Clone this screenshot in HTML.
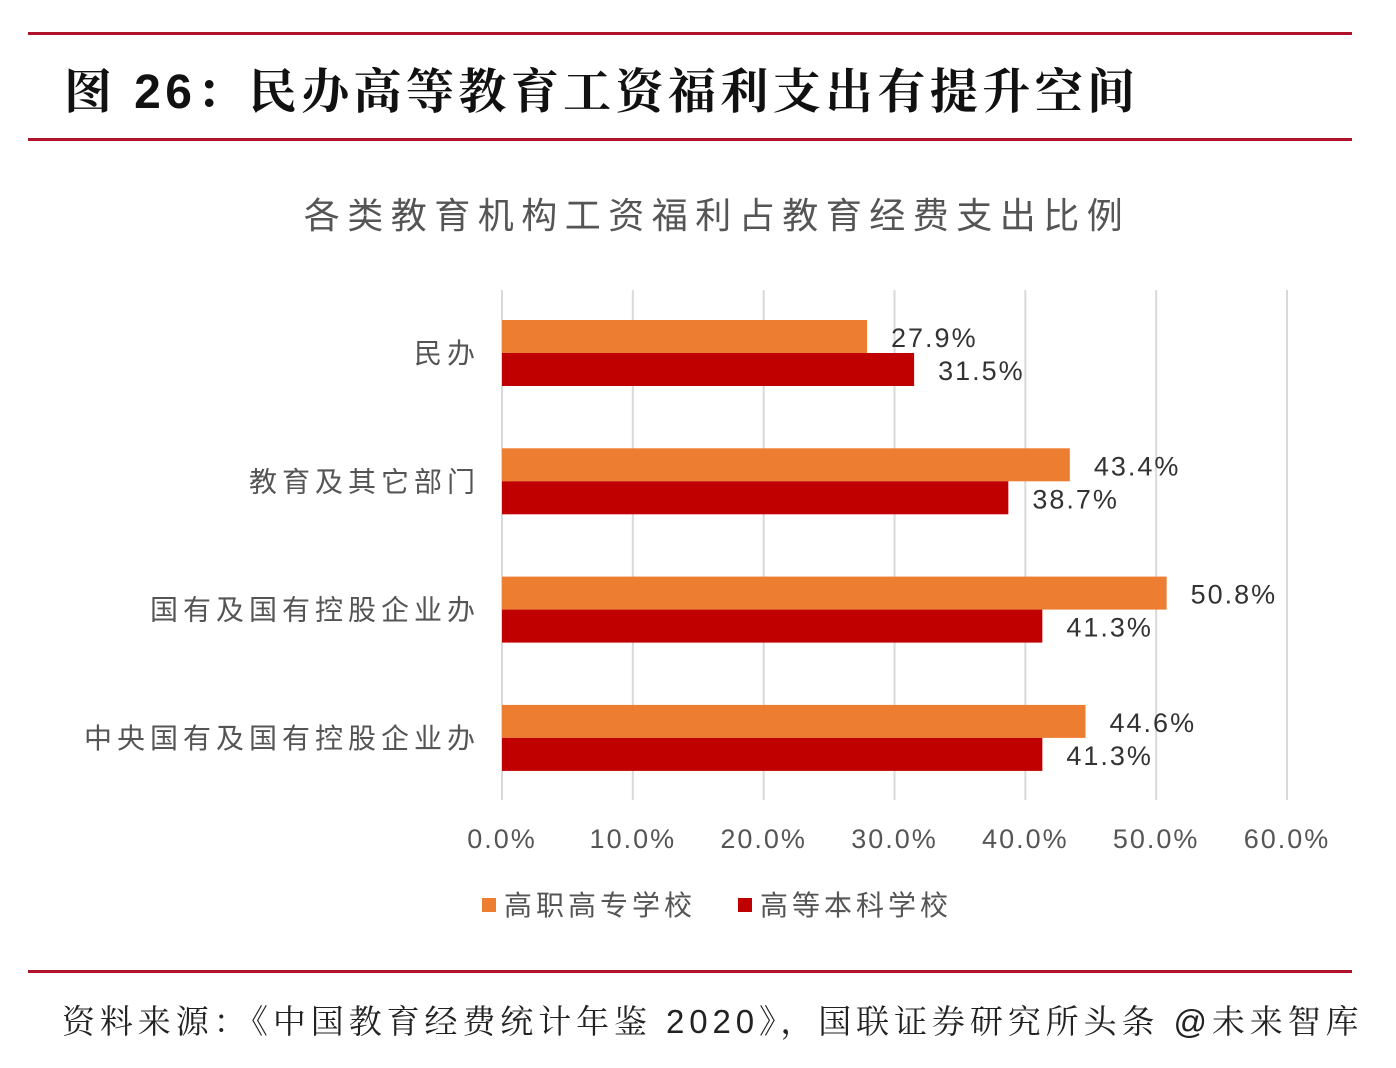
<!DOCTYPE html>
<html><head><meta charset="utf-8">
<style>
body{margin:0;width:1396px;height:1068px;background:#fff;overflow:hidden;position:relative;font-family:"Liberation Sans","Noto Sans CJK SC",sans-serif;}
.rl{position:absolute;left:28px;width:1324px;height:3px;background:#b0142c;}
#title{position:absolute;left:64px;top:53px;font-size:48px;font-weight:bold;letter-spacing:4.4px;color:#111;font-family:"Liberation Sans","Noto Serif CJK SC",serif;white-space:nowrap;}
#src{position:absolute;left:62px;top:996px;font-size:33px;letter-spacing:4.9px;color:#222;font-family:"Liberation Sans","Noto Serif CJK SC",serif;white-space:nowrap;}
</style></head><body>
<div class="rl" style="top:32px"></div>
<div id="title">图 26：民办高等教育工资福利支出有提升空间</div>
<div class="rl" style="top:138px"></div>
<svg id="chart" width="1396" height="1068" style="position:absolute;left:0;top:0"></svg>
<div class="rl" style="top:970px"></div>
<div id="src">资料来源：《中国教育经费统计年鉴 2020》，国联证券研究所头条 @未来智库</div>
<script>
const categories=["民办","教育及其它部门","国有及国有控股企业办","中央国有及国有控股企业办"];
const seriesNames=["高职高专学校","高等本科学校"];
const vocational=[27.9,43.4,50.8,44.6];
const undergrad=[31.5,38.7,41.3,41.3];
const ticks=[0,10,20,30,40,50,60];
const colors=["#ED7D31","#C00000"];
const NS="http://www.w3.org/2000/svg";
const svg=document.getElementById('chart');
const x0=502,x1=1287,yTop=290,yBot=800,catStep=128.3,cat0=353,barH=33;
const xs=v=>x0+(v-0)/(60-0)*(x1-x0);
const yc=i=>cat0+i*catStep;
function mk(t,a){const e=document.createElementNS(NS,t);for(const k in a)e.setAttribute(k,a[k]);svg.appendChild(e);return e;}
const tf='"Liberation Sans","Noto Sans CJK SC",sans-serif';
let t=mk('text',{x:717,y:228,'font-size':36,fill:'#555','text-anchor':'middle','letter-spacing':7.5,'font-family':tf});t.textContent="各类教育机构工资福利占教育经费支出比例";


ticks.forEach(v=>{
 const g=mk('line',{x1:xs(v),x2:xs(v),y1:yTop,y2:yBot,stroke:'#d9d9d9','stroke-width':2});
 
 
 const l=mk('text',{x:xs(v),y:848,'font-size':27,fill:'#555','text-anchor':'middle','letter-spacing':2,'font-family':tf});
 l.textContent=v.toFixed(1)+'%';
 
 
});
categories.forEach((c,i)=>{
 const l=mk('text',{x:480,y:yc(i)+10,'font-size':28,fill:'#555','text-anchor':'end','letter-spacing':5,'font-family':tf});
 l.textContent=c;
 
 
 [vocational,undergrad].forEach((s,k)=>{
  const y=yc(i)-barH+k*barH;
  const r=mk('rect',{x:x0,y:y,width:xs(s[i])-x0,height:barH,fill:colors[k]});
  
  
  const v=mk('text',{x:xs(s[i])+24,y:y+barH-6,'font-size':27,fill:'#333','letter-spacing':2,'font-family':tf});
  v.textContent=s[i].toFixed(1)+'%';
  
  
 });
});
const lx=[482,738];
seriesNames.forEach((n,k)=>{
 const r=mk('rect',{x:lx[k],y:898,width:14,height:14,fill:colors[k]});
 
 
 const l=mk('text',{x:lx[k]+22,y:915,'font-size':28,fill:'#555','letter-spacing':4,'font-family':tf});
 l.textContent=n;
 
 
});
</script>
</body></html>
